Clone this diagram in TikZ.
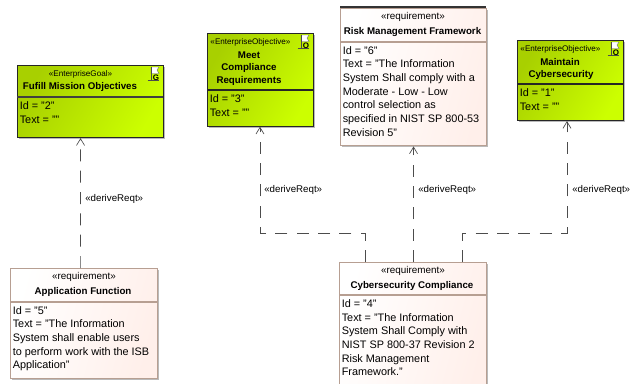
\documentclass[tikz,border=0pt]{standalone}
\usepackage{fontspec}
\setmainfont{Liberation Sans}
\usetikzlibrary{arrows.meta,shadows}

\tikzset{
  diagbox/.style={draw, line width=0.8pt, anchor=north west, inner sep=0pt, drop shadow={shadow xshift=1.2pt, shadow yshift=-1.2pt, fill=black!45, opacity=0.6}},
  goalbox/.style={diagbox, draw=black!85, left color=green1, right color=green2, shading angle=60},
  reqbox/.style={diagbox, draw=req, left color=white, right color=pink1, shading angle=75},
  stereo/.style={font=\fontsize{6.1}{8}\selectfont, inner sep=0pt},
  stereoreq/.style={font=\fontsize{7.4}{8}\selectfont, inner sep=0pt},
  title/.style={font=\fontsize{7.3}{9.3}\selectfont\bfseries, inner sep=0pt, align=center},
  body/.style={font=\fontsize{8.15}{10.25}\selectfont, inner sep=0pt, align=left, anchor=north west},
  dep/.style={draw=black!70, line width=0.5pt, dash pattern=on 9pt off 7pt, -{Straight Barb[length=5pt,width=6pt]}},
  deplabel/.style={font=\fontsize{7.3}{8}\selectfont, inner sep=0pt, anchor=west},
  flagicon/.pic={
    \fill[white, draw=black!60, line width=0.3pt] (-4,-8) -- (4,-8) -- (2,-5) -- (4,-1.5) -- (-4,-1.5) -- cycle;
    \draw[black!70, line width=0.4pt] (-4,-8) -- (-4,5.5) (-7.5,5.5) -- (4,5.5);
    \node[font=\fontsize{6}{6}\selectfont\bfseries, inner sep=0pt] at (1,2.5) {\tikzpictext};
  }
}
\definecolor{green1}{HTML}{A8D000}
\definecolor{green2}{HTML}{CCFF00}
\definecolor{req}{HTML}{B79F92}
\definecolor{pink1}{HTML}{FFEFEA}

\begin{document}
\begin{tikzpicture}[x=0.75pt, y=-0.75pt]
    \useasboundingbox (0,0) rectangle (637,383);

    % Goal and objectives
    \node[goalbox, minimum width=109.5pt, minimum height=54pt] (fulfill) at (17,65) {};
    \draw[line width=0.8pt, black!75] (17,97) -- (163,97);
    \node[stereo] (fulfillst) at (80.5,74.5) {«EnterpriseGoal»};
    \node[title] (fulfillti) at (80,87) {Fufill Mission Objectives};
    \node[body] (fulfillbd) at (19.5,101.2) {Id = "2"\\Text = ""};
    \pic[pic text=G] at (155,75) {flagicon};

    \node[goalbox, minimum width=79.5pt, minimum height=69.5pt] (meet) at (207,33) {};
    \draw[line width=0.8pt, black!85] (207,90) -- (313,90);
    \node[stereo] (meetst) at (250.5,42.5) {«EnterpriseObjective»};
    \node[title] (meetti) at (249,68.5) {Meet\\Compliance\\Requirements};
    \node[body] (meetbd) at (209.5,94.7) {Id = "3"\\Text = ""};
    \pic[pic text=O] at (305,43) {flagicon};

    \node[goalbox, minimum width=79.5pt, minimum height=60pt] (maintain) at (517,40) {};
    \draw[line width=0.8pt, black!85] (517,84) -- (623,84);
    \node[stereo] (maintainst) at (560.5,49.5) {«EnterpriseObjective»};
    \node[title] (maintainti) at (560,62) {Maintain};
    \node[title] (maintaintw) at (561,74.5) {Cybersecurity};
    \node[body] (maintainbd) at (519.5,88.7) {Id = "1"\\Text = ""};
    \pic[pic text=O] at (615,50) {flagicon};

    % Requirements
    \draw[line width=1.2pt, black!80] (340,7) -- (486,7);
    \node[reqbox, minimum width=109.5pt, minimum height=103pt] (risk) at (340,8) {};
    \draw[line width=0.8pt, req] (340,42) -- (486,42);
    \node[stereoreq] (riskst) at (413,16.5) {«requirement»};
    \node[title] (riskti) at (412.5,32) {Risk Management Framework};
    \node[body] (riskbd) at (342.5,46) {Id = "6"\\Text = "The Information\\System Shall comply with a\\Moderate - Low - Low\\control selection as\\specified in NIST SP 800-53\\Revision 5"};

    \node[reqbox, minimum width=110pt, minimum height=82.5pt] (appfn) at (10,268) {};
    \draw[line width=0.8pt, req] (10,302) -- (157,302);
    \node[stereoreq] (appfnst) at (84,276.5) {«requirement»};
    \node[title] (appfnti) at (83,292) {Application Function};
    \node[body] (appfnbd) at (12.5,306) {Id = "5"\\Text = "The Information\\System shall enable users\\to perform work with the ISB\\Application"};

    \node[reqbox, minimum width=110pt, minimum height=105pt] (cyber) at (339,262) {};
    \draw[line width=0.8pt, req] (339,295) -- (486,295);
    \node[stereoreq] (cyberst) at (413,270.5) {«requirement»};
    \node[title] (cyberti) at (412,286) {Cybersecurity Compliance};
    \node[body] (cyberbd) at (341.5,299.5) {Id = "4"\\Text = "The Information\\System Shall Comply with\\NIST SP 800-37 Revision 2\\Risk Management\\Framework."};

    % Bends
    \coordinate (bendmeetb) at (365,233);
    \coordinate (bendmeeta) at (260,233);
    \coordinate (bendmainb) at (462,233);
    \coordinate (bendmaina) at (567,233);

    % Dependencies
    \draw[dep] ([xshift=-2.6pt]appfn.north) -- ([xshift=-7.5pt]fulfill.south);
    \draw[dep] (cyber.north -| bendmeetb) -- (bendmeetb) -- (bendmeeta) -- (meet.south -| bendmeeta);
    \draw[dep] ([xshift=0.5pt]cyber.north) -- (risk.south);
    \draw[dep] (cyber.north -| bendmainb) -- (bendmainb) -- (bendmaina) -- (maintain.south -| bendmaina);

    \node[deplabel] (lblgoal) at (85,198.5) {«deriveReqt»};
    \node[deplabel] (lblmeet) at (264,189.5) {«deriveReqt»};
    \node[deplabel] (lblrisk) at (418,189.5) {«deriveReqt»};
    \node[deplabel] (lblmain) at (572,189.5) {«deriveReqt»};
\end{tikzpicture}
\end{document}
